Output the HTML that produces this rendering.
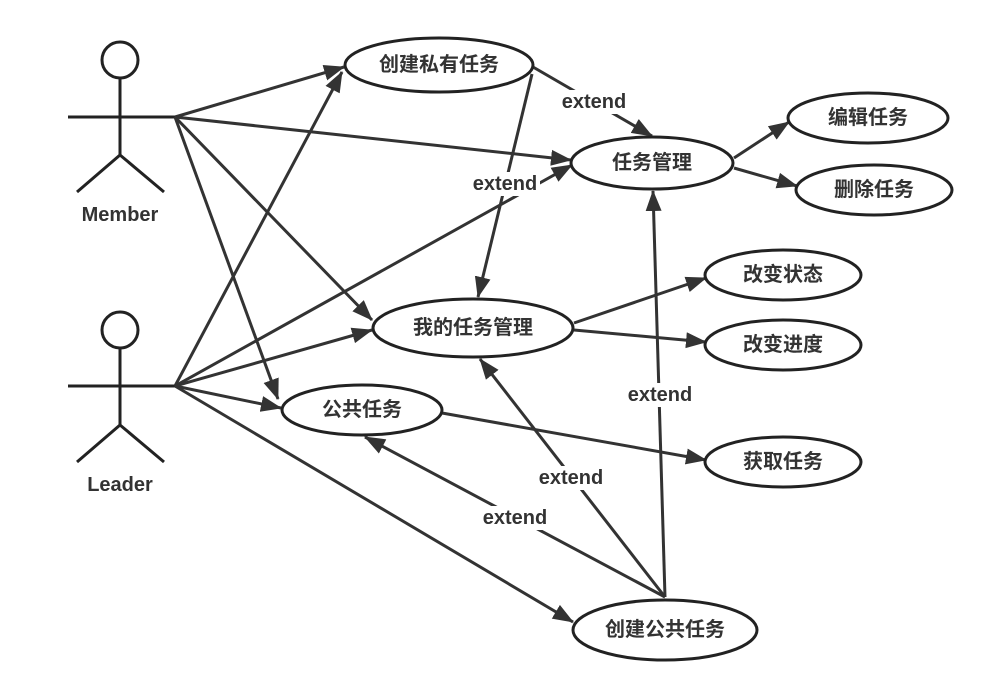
<!DOCTYPE html>
<html><head><meta charset="utf-8"><style>
html,body{margin:0;padding:0;background:#fff;}
svg{display:block;}
text{font-family:"Liberation Sans","Noto Sans CJK SC",sans-serif;font-weight:bold;fill:#333;}
</style></head><body>
<svg width="993" height="696" viewBox="0 0 993 696" xmlns="http://www.w3.org/2000/svg">
<defs>
<marker id="b" markerWidth="22" markerHeight="18" refX="20" refY="9" orient="auto" markerUnits="userSpaceOnUse" viewBox="0 0 22 18">
<path d="M0,1 L21,9 L0,17 z" fill="#333"/>
</marker>
</defs>
<g stroke="#222" stroke-width="3" fill="none">
<circle cx="120" cy="60" r="18"/>
<line x1="120" y1="78" x2="120" y2="155"/>
<line x1="68" y1="117" x2="175" y2="117"/>
<line x1="120" y1="155" x2="77" y2="192"/>
<line x1="120" y1="155" x2="164" y2="192"/>
<circle cx="120" cy="330" r="18"/>
<line x1="120" y1="348" x2="120" y2="425"/>
<line x1="68" y1="386" x2="175" y2="386"/>
<line x1="120" y1="425" x2="77" y2="462"/>
<line x1="120" y1="425" x2="164" y2="462"/>
</g>
<g stroke="#333" stroke-width="3" fill="none" marker-end="url(#b)">
<line x1="175" y1="117" x2="344" y2="67"/>
<line x1="175" y1="117" x2="571" y2="160"/>
<line x1="175" y1="117" x2="372" y2="320"/>
<line x1="175" y1="117" x2="278" y2="399"/>
<line x1="175" y1="386" x2="342" y2="72"/>
<line x1="175" y1="386" x2="572" y2="165"/>
<line x1="175" y1="386" x2="372" y2="330"/>
<line x1="175" y1="386" x2="281" y2="408"/>
<line x1="175" y1="386" x2="573" y2="622"/>
<line x1="533" y1="67" x2="652" y2="136"/>
<line x1="532" y1="74" x2="478" y2="297"/>
<line x1="734" y1="158" x2="789" y2="122"/>
<line x1="734" y1="168" x2="797" y2="186"/>
<line x1="574" y1="323" x2="706" y2="278"/>
<line x1="574" y1="330" x2="706" y2="342"/>
<line x1="442" y1="413" x2="706" y2="460"/>
<line x1="665" y1="597" x2="653" y2="191"/>
<line x1="665" y1="597" x2="480" y2="359"/>
<line x1="665" y1="597" x2="365" y2="437"/>
</g>
<g stroke="#222" stroke-width="3" fill="#fff">
<ellipse cx="439" cy="65" rx="94" ry="27"/>
<ellipse cx="652" cy="163" rx="81" ry="26"/>
<ellipse cx="868" cy="118" rx="80" ry="25"/>
<ellipse cx="874" cy="190" rx="78" ry="25"/>
<ellipse cx="783" cy="275" rx="78" ry="25"/>
<ellipse cx="473" cy="328" rx="100" ry="29"/>
<ellipse cx="783" cy="345" rx="78" ry="25"/>
<ellipse cx="362" cy="410" rx="80" ry="25"/>
<ellipse cx="783" cy="462" rx="78" ry="25"/>
<ellipse cx="665" cy="630" rx="92" ry="30"/>
</g>
<g font-size="20" text-anchor="middle" dominant-baseline="central">
<text x="439" y="65">创建私有任务</text>
<text x="652" y="163">任务管理</text>
<text x="868" y="118">编辑任务</text>
<text x="874" y="190">删除任务</text>
<text x="783" y="275">改变状态</text>
<text x="473" y="328">我的任务管理</text>
<text x="783" y="345">改变进度</text>
<text x="362" y="410">公共任务</text>
<text x="783" y="462">获取任务</text>
<text x="665" y="630">创建公共任务</text>
<text x="120" y="215">Member</text>
<text x="120" y="485">Leader</text>
</g>
<g font-size="20" text-anchor="middle" dominant-baseline="central">
<rect x="559" y="90" width="70" height="24" fill="#fff"/>
<text x="594" y="102">extend</text>
<rect x="470" y="172" width="70" height="24" fill="#fff"/>
<text x="505" y="184">extend</text>
<rect x="625" y="383" width="70" height="24" fill="#fff"/>
<text x="660" y="395">extend</text>
<rect x="536" y="466" width="70" height="24" fill="#fff"/>
<text x="571" y="478">extend</text>
<rect x="480" y="506" width="70" height="24" fill="#fff"/>
<text x="515" y="518">extend</text>
</g>
</svg>
</body></html>
